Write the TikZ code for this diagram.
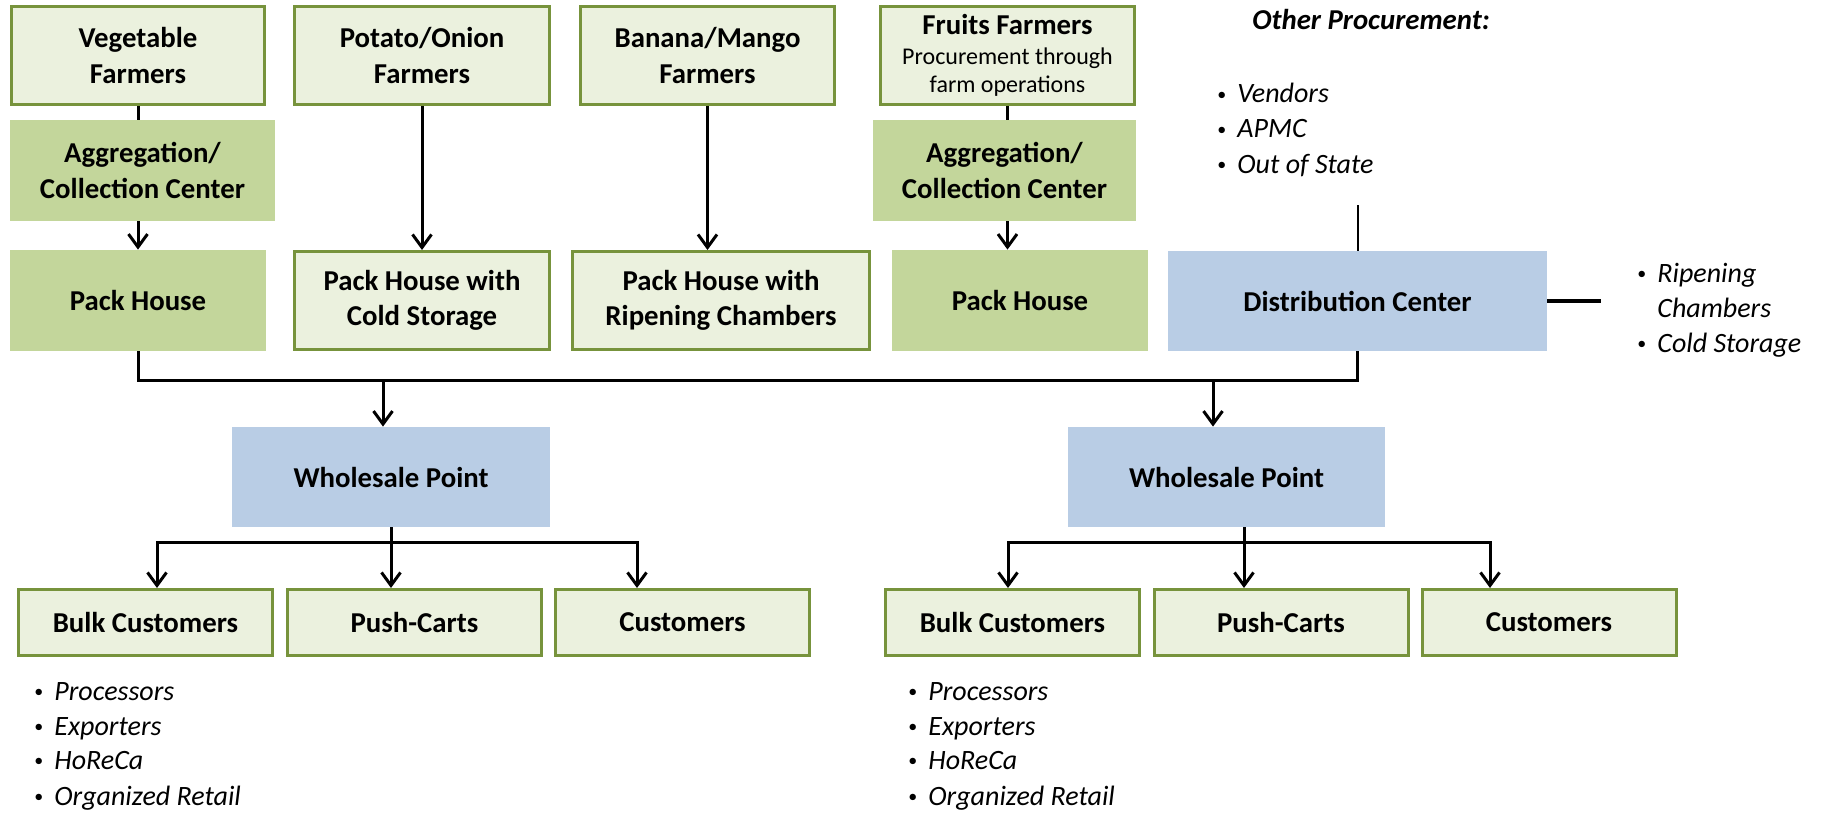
\documentclass[tikz,border=0pt]{standalone}
\usepackage{fontspec}
\setmainfont{Carlito}
\usetikzlibrary{arrows.meta,calc}
\definecolor{lgfill}{HTML}{EBF1DE}
\definecolor{gborder}{HTML}{77933C}
\definecolor{dgfill}{HTML}{C3D69B}
\definecolor{bfill}{HTML}{B9CDE5}
\newcommand{\bulmark}{\makebox[10pt][l]{\raisebox{1.2pt}{\upshape\fontsize{9}{9}\selectfont •}}}
\begin{document}
\begin{tikzpicture}[x=0.5pt,y=-0.5pt,
  boxfont/.style={font=\fontsize{14.4}{17.6}\selectfont\bfseries},
  gbox/.style={draw=gborder, line width=1.5pt, fill=lgfill, inner sep=0pt, align=center, boxfont, minimum width=127pt, minimum height=49pt},
  dgbox/.style={fill=dgfill, inner sep=0pt, align=center, boxfont, minimum width=128pt, minimum height=50.5pt},
  bbox/.style={fill=bfill, inner sep=0pt, align=center, boxfont, minimum height=50pt},
  lowbox/.style={gbox, minimum width=127pt, minimum height=33pt},
  ln/.style={line width=1.5pt, black},
  lnthin/.style={line width=1pt, black},
  lnthick/.style={line width=2pt, black},
  arr/.style={line width=1.5pt, black, -{Straight Barb[length=6.5pt,width=9.5pt]}},
  bul/.style={anchor=base west, inner sep=0pt, font=\fontsize{14}{17}\selectfont\itshape},
]
\useasboundingbox[fill=white] (0,0) rectangle (1826,813);

% top row
\node[gbox, minimum width=126.5pt] (vf) at (138,55.5) {Vegetable\\Farmers};
\node[gbox, minimum width=127.5pt] (pof) at (422,55.5) {Potato/Onion\\Farmers};
\node[gbox] (bmf) at (707.5,55.5) {Banana/Mango\\Farmers};
\node[gbox, font=\fontsize{12}{14}\selectfont\mdseries] (ff) at (1007.5,55.5) {{\fontsize{14.4}{17.6}\selectfont\bfseries Fruits Farmers}\\[1pt]Procurement through\\farm operations};

% aggregation
\node[dgbox, minimum width=132.5pt] (agg1) at (142.5,170.5) {Aggregation/\\Collection Center};
\node[dgbox, minimum width=131.5pt] (agg2) at (1004.5,170.5) {Aggregation/\\Collection Center};

% pack houses
\node[dgbox] (ph1) at (138,300.5) {Pack House};
\node[gbox, minimum width=127.5pt] (phc) at (422,300.5) {Pack House with\\Cold Storage};
\node[gbox, minimum width=148.5pt] (phr) at (721,300.5) {Pack House with\\Ripening Chambers};
\node[dgbox] (ph2) at (1020,300.5) {Pack House};
\node[bbox, minimum width=189.5pt] (dc) at (1357.5,301) {Distribution Center};

% other procurement
\node[anchor=base west, inner sep=0pt, font=\fontsize{14.4}{17.6}\selectfont\bfseries\itshape] (op) at (1252,30) {Other Procurement:};
\node[bul] (op1) at (1217,103) {\bulmark Vendors};
\node[bul] (op2) at (1217,138) {\bulmark APMC};
\node[bul] (op3) at (1217,173) {\bulmark Out of State};

% storage list
\node[bul] (st1) at (1637,282) {\bulmark Ripening};
\node[bul] (st1b) at (1657,317) {Chambers};
\node[bul] (st2) at (1637,352) {\bulmark Cold Storage};

% wholesale
\node[bbox, minimum width=159pt] (wp1) at (391,477) {Wholesale Point};
\node[bbox, minimum width=158.5pt] (wp2) at (1226.5,477) {Wholesale Point};

% customers
\node[lowbox] (bc1) at (145.5,622.5) {Bulk Customers};
\node[lowbox] (pc1) at (414.5,622.5) {Push-Carts};
\node[lowbox] (cu1) at (682.5,622.5) {Customers};
\node[lowbox] (bc2) at (1012.5,622.5) {Bulk Customers};
\node[lowbox] (pc2) at (1281,622.5) {Push-Carts};
\node[lowbox] (cu2) at (1549,622.5) {Customers};

% bulk lists
\node[bul] (la1) at (34,700) {\bulmark Processors};
\node[bul] (la2) at (34,735) {\bulmark Exporters};
\node[bul] (la3) at (34,769) {\bulmark HoReCa};
\node[bul] (la4) at (34,805) {\bulmark Organized Retail};
\node[bul] (ra1) at (908,700) {\bulmark Processors};
\node[bul] (ra2) at (908,735) {\bulmark Exporters};
\node[bul] (ra3) at (908,769) {\bulmark HoReCa};
\node[bul] (ra4) at (908,805) {\bulmark Organized Retail};

% connectors top
\draw[ln] (vf.south) -- (vf.south |- agg1.north);
\draw[arr] (ph1.north |- agg1.south) -- (ph1.north);
\draw[arr] (pof.south) -- (pof.south |- phc.north);
\draw[arr] (bmf.south) -- (bmf.south |- phr.north);
\draw[ln] (ff.south) -- (ff.south |- agg2.north);
\draw[arr] (ff.south |- agg2.south) -- (ff.south |- ph2.north);

\coordinate (opend) at (dc.north |- 0,205);
\draw[lnthin] (opend) -- (dc.north);
\coordinate (dcr) at (1601,0);
\draw[lnthick] (dc.east) -- (dc.east -| dcr);

% bus to wholesale
\coordinate (busY) at (0,380);
\draw[ln] (ph1.south) |- (dc.south |- busY) -- (dc.south);
\draw[arr] ([xshift=-4pt]wp1.north |- busY) -- ([xshift=-4pt]wp1.north);
\draw[arr] ([xshift=-6.75pt]wp2.north |- busY) -- ([xshift=-6.75pt]wp2.north);

% wholesale to customers (left)
\coordinate (b1) at (wp1.south |- 0,542);
\draw[ln] (wp1.south) -- (b1);
\draw[arr] (b1) -| ([xshift=5.75pt]bc1.north);
\draw[arr] (b1) -- (pc1.north -| b1);
\draw[arr] (b1) -| ([xshift=-22.75pt]cu1.north);

% wholesale to customers (right)
\coordinate (b2) at ([xshift=8.75pt]wp2.south |- 0,542);
\draw[ln] ([xshift=8.75pt]wp2.south) -- (b2);
\draw[arr] (b2) -| ([xshift=-2.25pt]bc2.north);
\draw[arr] (b2) -- (pc2.north -| b2);
\draw[arr] (b2) -| ([xshift=-29.5pt]cu2.north);
\end{tikzpicture}
\end{document}
